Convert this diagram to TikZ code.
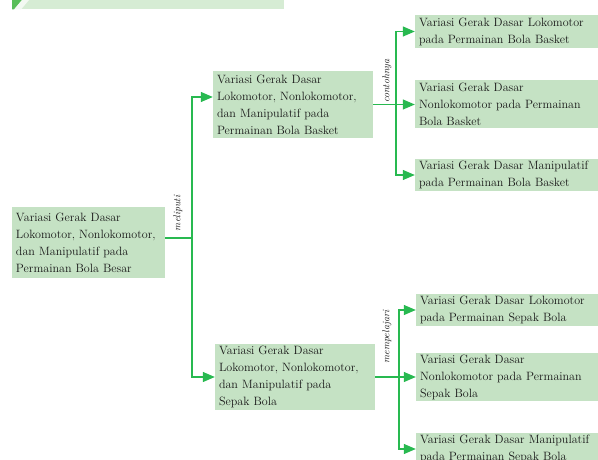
\documentclass[tikz,border=0pt]{standalone}
\usepackage{fontspec}
\usetikzlibrary{arrows.meta}
\definecolor{boxgreen}{RGB}{197,226,196}
\definecolor{linegreen}{RGB}{40,185,80}
\definecolor{bannergreen}{RGB}{214,236,212}
\definecolor{stripegreen}{RGB}{88,190,88}
\definecolor{txt}{RGB}{25,25,25}
\tikzset{
  box/.style={fill=boxgreen, inner xsep=4bp, inner ysep=0pt, align=left, text=txt,
    font=\fontsize{12.1}{17}\selectfont},
  lbl/.style={rotate=90, inner sep=0pt, text=txt, font=\itshape\fontsize{10}{10}\selectfont},
  line/.style={draw=linegreen, line width=1.2bp},
  arr/.style={line, -{Triangle[length=12bp,width=10bp]}, color=linegreen},
}
\begin{document}
\begin{tikzpicture}[x=1bp,y=-1bp]
\useasboundingbox (0,0) rectangle (598,460);
% banner
\fill[bannergreen] (12,0) rectangle (284,9.5);
\fill[stripegreen] (12,0) -- (22,0) -- (14,9.5) -- (12,9.5) -- cycle;
\fill[white!70!bannergreen] (22,0) -- (29,0) -- (21,9.5) -- (14,9.5) -- cycle;
% boxes
\node[box, minimum width=153bp, minimum height=71bp, text width=145bp] (L) at (88.5,242.5)
  {Variasi Gerak Dasar\\Lokomotor, Nonlokomotor,\\dan Manipulatif pada\\Permainan Bola Besar};
\node[box, minimum width=160bp, minimum height=67bp, text width=152bp] (M1) at (293,104.5)
  {Variasi Gerak Dasar\\Lokomotor, Nonlokomotor,\\dan Manipulatif pada\\Permainan Bola Basket};
\node[box, minimum width=160bp, minimum height=66bp, text width=152bp] (M2) at (295,377)
  {Variasi Gerak Dasar\\Lokomotor, Nonlokomotor,\\dan Manipulatif pada\\Sepak Bola};
\node[box, minimum width=183bp, minimum height=33bp, text width=175bp] (R1) at (506.5,31.5)
  {Variasi Gerak Dasar Lokomotor\\pada Permainan Bola Basket};
\node[box, minimum width=183bp, minimum height=48bp, text width=175bp] (R2) at (506.5,104.5)
  {Variasi Gerak Dasar\\Nonlokomotor pada Permainan\\Bola Basket};
\node[box, minimum width=183bp, minimum height=32bp, text width=175bp] (R3) at (506.5,175)
  {Variasi Gerak Dasar Manipulatif\\pada Permainan Bola Basket};
\node[box, minimum width=182bp, minimum height=32bp, text width=174bp] (S1) at (507,310)
  {Variasi Gerak Dasar Lokomotor\\pada Permainan Sepak Bola};
\node[box, minimum width=182bp, minimum height=48bp, text width=174bp] (S2) at (507,377)
  {Variasi Gerak Dasar\\Nonlokomotor pada Permainan\\Sepak Bola};
\node[box, minimum width=182bp, minimum height=32bp, text width=174bp] (S3) at (507,449)
  {Variasi Gerak Dasar Manipulatif\\pada Permainan Sepak Bola};
% labels
\node[lbl] (t1) at (178,213.5) {meliputi};
\node[lbl] (t2) at (387,81) {contohnya};
\node[lbl] (t3) at (387,337) {mempelajari};
% junctions
\coordinate (J1) at (192,238);
\coordinate (J2) at (396,104.5);
\coordinate (J3) at (399,377);
% connectors
\draw[line] (L.east |- J1) -- (J1);
\draw[arr] (J1) |- ([yshift=7.5bp]M1.west);
\draw[arr] (J1) |- (M2.west);
\draw[arr] (M1.east) -- (R2.west);
\draw[arr] (J2) |- (R1.west);
\draw[arr] (J2) |- (R3.west);
\draw[arr] (M2.east) -- (S2.west);
\draw[arr] (J3) |- (S1.west);
\draw[arr] (J3) |- (S3.west);
\end{tikzpicture}
\end{document}
